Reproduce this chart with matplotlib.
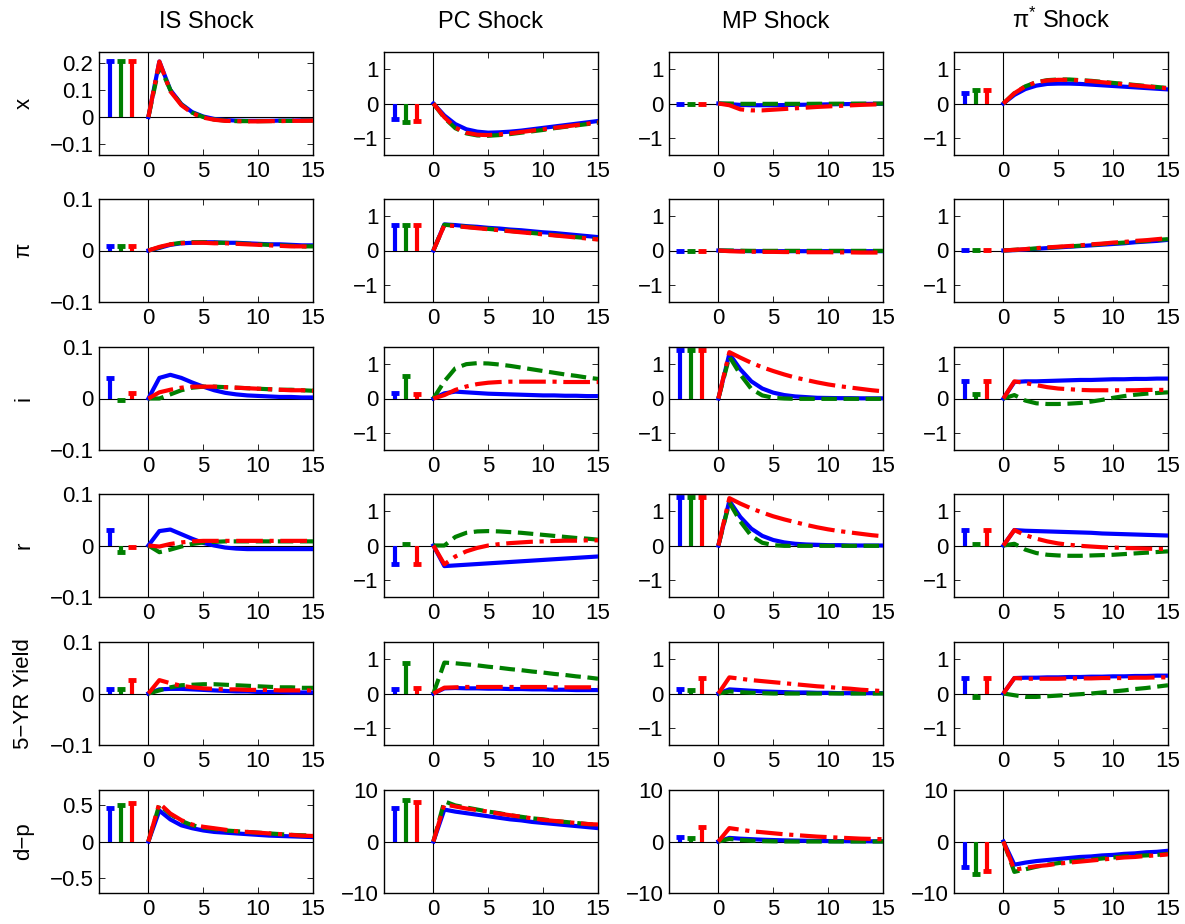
import numpy as np
import matplotlib
matplotlib.use("Agg")
import matplotlib.pyplot as plt

plt.rcParams['font.family'] = ['Liberation Sans', 'DejaVu Sans']
plt.rcParams['mathtext.fontset'] = 'custom'
plt.rcParams['mathtext.rm'] = 'Liberation Sans'
plt.rcParams['mathtext.it'] = 'Liberation Sans:italic'

# horizons 0..15, each panel: (blue, green, red)
horizon = np.arange(16)

shocks = ['IS Shock', 'PC Shock', 'MP Shock', 'π$^{*}$ Shock']
variables = ['x', 'π', 'i', 'r', '5−YR Yield', 'd−p']

# ---- x ----
x_IS = ([0, 0.205, 0.10, 0.048, 0.018, 0.002, -0.007, -0.011, -0.013, -0.014, -0.014, -0.014, -0.013, -0.013, -0.012, -0.012],
        [0, 0.19, 0.10, 0.046, 0.016, 0.000, -0.009, -0.013, -0.015, -0.015, -0.015, -0.015, -0.014, -0.014, -0.013, -0.013],
        [0, 0.205, 0.095, 0.044, 0.014, -0.002, -0.010, -0.014, -0.015, -0.016, -0.016, -0.015, -0.015, -0.014, -0.014, -0.013])
x_PC = ([0, -0.35, -0.6, -0.75, -0.82, -0.85, -0.84, -0.82, -0.79, -0.75, -0.71, -0.67, -0.63, -0.59, -0.55, -0.51],
        [0, -0.42, -0.72, -0.87, -0.93, -0.94, -0.92, -0.89, -0.85, -0.81, -0.77, -0.72, -0.68, -0.64, -0.60, -0.56],
        [0, -0.40, -0.70, -0.85, -0.91, -0.92, -0.90, -0.87, -0.83, -0.79, -0.75, -0.71, -0.67, -0.63, -0.59, -0.55])
x_MP = ([0, -0.02, -0.04, -0.05, -0.05, -0.05, -0.045, -0.04, -0.035, -0.03, -0.025, -0.02, -0.016, -0.013, -0.01, -0.008],
        [0, 0, -0.01, -0.01, -0.01, -0.01, -0.01, -0.01, -0.01, -0.008, -0.007, -0.006, -0.005, -0.004, -0.003, -0.002],
        [0, -0.05, -0.17, -0.2, -0.2, -0.18, -0.16, -0.14, -0.12, -0.1, -0.085, -0.07, -0.055, -0.04, -0.03, -0.02])
x_PIS = ([0, 0.25, 0.42, 0.52, 0.57, 0.58, 0.58, 0.57, 0.55, 0.53, 0.51, 0.49, 0.47, 0.45, 0.43, 0.41],
         [0, 0.3, 0.5, 0.62, 0.68, 0.70, 0.70, 0.68, 0.66, 0.63, 0.60, 0.57, 0.54, 0.51, 0.48, 0.45],
         [0, 0.3, 0.5, 0.62, 0.67, 0.69, 0.69, 0.67, 0.65, 0.62, 0.59, 0.56, 0.53, 0.50, 0.47, 0.44])

# ---- pi ----
pi_IS = ([0, 0.005, 0.011, 0.014, 0.015, 0.016, 0.016, 0.015, 0.015, 0.014, 0.013, 0.012, 0.012, 0.011, 0.010, 0.010],
         [0, 0.006, 0.012, 0.015, 0.016, 0.016, 0.015, 0.015, 0.014, 0.013, 0.012, 0.011, 0.010, 0.009, 0.008, 0.008],
         [0, 0.007, 0.012, 0.014, 0.015, 0.015, 0.014, 0.014, 0.013, 0.012, 0.011, 0.010, 0.009, 0.008, 0.008, 0.007])
pi_PC = ([0, 0.76, 0.74, 0.71, 0.69, 0.66, 0.64, 0.61, 0.59, 0.56, 0.53, 0.51, 0.48, 0.45, 0.42, 0.39],
         [0, 0.75, 0.72, 0.69, 0.66, 0.63, 0.60, 0.57, 0.54, 0.51, 0.48, 0.45, 0.42, 0.39, 0.36, 0.33],
         [0, 0.74, 0.71, 0.68, 0.65, 0.62, 0.59, 0.56, 0.53, 0.50, 0.47, 0.44, 0.41, 0.38, 0.35, 0.32])
pi_MP = ([0, -0.01, -0.015, -0.02, -0.02, -0.02, -0.02, -0.02, -0.02, -0.02, -0.02, -0.02, -0.02, -0.02, -0.02, -0.02],
         [0, 0, -0.005, -0.01, -0.01, -0.01, -0.01, -0.01, -0.01, -0.01, -0.01, -0.01, -0.01, -0.01, -0.01, -0.01],
         [0, -0.02, -0.03, -0.035, -0.04, -0.04, -0.045, -0.045, -0.05, -0.05, -0.05, -0.055, -0.055, -0.06, -0.06, -0.06])
pi_PIS = ([0, 0.01, 0.03, 0.05, 0.07, 0.09, 0.11, 0.13, 0.15, 0.17, 0.19, 0.21, 0.24, 0.26, 0.28, 0.31],
          [0, 0.02, 0.04, 0.06, 0.08, 0.10, 0.12, 0.14, 0.16, 0.19, 0.21, 0.23, 0.26, 0.28, 0.31, 0.33],
          [0, 0.02, 0.04, 0.07, 0.09, 0.11, 0.13, 0.15, 0.18, 0.20, 0.23, 0.25, 0.28, 0.30, 0.33, 0.36])

# ---- i ----
i_IS = ([0, 0.04, 0.046, 0.04, 0.031, 0.023, 0.016, 0.011, 0.008, 0.006, 0.005, 0.004, 0.003, 0.003, 0.002, 0.002],
        [0, 0.0, 0.008, 0.016, 0.021, 0.023, 0.023, 0.022, 0.021, 0.020, 0.019, 0.018, 0.017, 0.017, 0.016, 0.015],
        [0, 0.012, 0.017, 0.021, 0.023, 0.023, 0.023, 0.022, 0.021, 0.020, 0.019, 0.018, 0.017, 0.016, 0.016, 0.015])
i_PC = ([0, 0.15, 0.2, 0.18, 0.16, 0.14, 0.13, 0.12, 0.11, 0.1, 0.09, 0.09, 0.08, 0.08, 0.07, 0.07],
        [0, 0.5, 0.88, 1.0, 1.03, 1.02, 0.99, 0.95, 0.9, 0.85, 0.8, 0.75, 0.7, 0.66, 0.61, 0.57],
        [0, 0.1, 0.25, 0.35, 0.42, 0.46, 0.48, 0.49, 0.49, 0.49, 0.49, 0.49, 0.48, 0.48, 0.48, 0.48])
i_MP = ([0, 1.3, 0.85, 0.5, 0.29, 0.17, 0.1, 0.06, 0.04, 0.02, 0.015, 0.01, 0.01, 0.005, 0.005, 0.005],
        [0, 1.22, 0.7, 0.28, 0.09, 0.02, 0.0, -0.01, -0.01, -0.01, -0.01, -0.01, -0.01, -0.01, -0.01, -0.01],
        [0, 1.35, 1.19, 1.04, 0.91, 0.8, 0.7, 0.61, 0.54, 0.47, 0.41, 0.36, 0.32, 0.28, 0.24, 0.21])
i_PIS = ([0, 0.48, 0.5, 0.5, 0.51, 0.52, 0.53, 0.54, 0.54, 0.55, 0.56, 0.56, 0.57, 0.57, 0.58, 0.58],
         [0, 0.1, -0.06, -0.14, -0.16, -0.16, -0.15, -0.13, -0.09, -0.04, 0.02, 0.07, 0.11, 0.14, 0.16, 0.18],
         [0, 0.5, 0.45, 0.39, 0.33, 0.29, 0.27, 0.25, 0.24, 0.24, 0.24, 0.24, 0.24, 0.25, 0.25, 0.25])

# ---- r ----
r_IS = ([0, 0.028, 0.031, 0.022, 0.013, 0.005, 0.0, -0.004, -0.006, -0.007, -0.007, -0.007, -0.007, -0.007, -0.007, -0.007],
        [0, -0.013, -0.008, -0.002, 0.003, 0.006, 0.007, 0.008, 0.008, 0.008, 0.008, 0.008, 0.008, 0.008, 0.008, 0.008],
        [0, -0.002, 0.003, 0.006, 0.008, 0.009, 0.009, 0.009, 0.009, 0.009, 0.009, 0.009, 0.009, 0.009, 0.009, 0.009])
r_PC = ([0, -0.6, -0.58, -0.56, -0.54, -0.52, -0.5, -0.48, -0.46, -0.44, -0.42, -0.4, -0.38, -0.36, -0.34, -0.32],
        [0, 0.0, 0.25, 0.37, 0.41, 0.42, 0.41, 0.39, 0.37, 0.34, 0.31, 0.28, 0.25, 0.22, 0.2, 0.17],
        [0, -0.55, -0.32, -0.17, -0.07, 0.0, 0.04, 0.07, 0.09, 0.11, 0.12, 0.13, 0.14, 0.14, 0.15, 0.15])
r_MP = ([0, 1.3, 0.83, 0.49, 0.28, 0.16, 0.09, 0.05, 0.03, 0.02, 0.01, 0.01, 0.0, 0.0, 0.0, 0.0],
        [0, 1.25, 0.7, 0.28, 0.08, 0.01, -0.01, -0.01, -0.01, -0.01, -0.01, -0.01, -0.01, -0.01, -0.01, -0.01],
        [0, 1.38, 1.22, 1.08, 0.96, 0.85, 0.76, 0.68, 0.6, 0.53, 0.47, 0.42, 0.38, 0.34, 0.3, 0.27])
r_PIS = ([0, 0.45, 0.43, 0.42, 0.41, 0.4, 0.39, 0.38, 0.37, 0.35, 0.34, 0.33, 0.32, 0.31, 0.3, 0.29],
         [0, 0.05, -0.12, -0.22, -0.27, -0.29, -0.3, -0.3, -0.29, -0.28, -0.27, -0.25, -0.23, -0.21, -0.19, -0.17],
         [0, 0.45, 0.3, 0.2, 0.12, 0.06, 0.02, -0.01, -0.03, -0.05, -0.06, -0.07, -0.08, -0.09, -0.1, -0.1])

# ---- 5-YR yield ----
y5_IS = ([0, 0.008, 0.009, 0.009, 0.008, 0.007, 0.006, 0.005, 0.004, 0.004, 0.003, 0.003, 0.003, 0.002, 0.002, 0.002],
         [0, 0.006, 0.012, 0.016, 0.017, 0.018, 0.018, 0.017, 0.016, 0.015, 0.014, 0.013, 0.012, 0.012, 0.011, 0.011],
         [0, 0.026, 0.02, 0.015, 0.012, 0.01, 0.009, 0.008, 0.008, 0.007, 0.007, 0.007, 0.006, 0.006, 0.006, 0.006])
y5_PC = ([0, 0.15, 0.16, 0.15, 0.15, 0.14, 0.14, 0.13, 0.13, 0.12, 0.12, 0.11, 0.11, 0.1, 0.1, 0.1],
         [0, 0.9, 0.88, 0.85, 0.82, 0.78, 0.75, 0.71, 0.68, 0.64, 0.61, 0.57, 0.54, 0.5, 0.47, 0.43],
         [0, 0.17, 0.18, 0.19, 0.19, 0.19, 0.19, 0.19, 0.19, 0.19, 0.19, 0.18, 0.18, 0.18, 0.18, 0.18])
y5_MP = ([0, 0.12, 0.1, 0.08, 0.06, 0.05, 0.04, 0.03, 0.03, 0.02, 0.02, 0.01, 0.01, 0.01, 0.01, 0.01],
         [0, 0.06, 0.04, 0.02, 0.01, 0.0, 0.0, 0.0, 0.0, 0.0, 0.0, 0.0, 0.0, 0.0, 0.0, 0.0],
         [0, 0.47, 0.43, 0.39, 0.36, 0.33, 0.3, 0.27, 0.24, 0.21, 0.19, 0.16, 0.14, 0.11, 0.09, 0.07])
y5_PIS = ([0, 0.45, 0.46, 0.46, 0.47, 0.47, 0.48, 0.48, 0.49, 0.49, 0.5, 0.5, 0.51, 0.51, 0.52, 0.52],
          [0, -0.05, -0.1, -0.1, -0.08, -0.06, -0.04, -0.02, 0.0, 0.03, 0.06, 0.09, 0.13, 0.16, 0.2, 0.24],
          [0, 0.45, 0.43, 0.43, 0.43, 0.43, 0.44, 0.44, 0.44, 0.45, 0.45, 0.45, 0.46, 0.46, 0.47, 0.47])

# ---- d-p ----
dp_IS = ([0, 0.42, 0.3, 0.22, 0.18, 0.15, 0.13, 0.12, 0.11, 0.1, 0.09, 0.08, 0.075, 0.07, 0.065, 0.06],
         [0, 0.5, 0.37, 0.28, 0.22, 0.19, 0.17, 0.15, 0.14, 0.13, 0.12, 0.11, 0.1, 0.09, 0.085, 0.08],
         [0, 0.52, 0.38, 0.29, 0.23, 0.2, 0.18, 0.16, 0.14, 0.13, 0.12, 0.11, 0.1, 0.09, 0.08, 0.075])
dp_PC = ([0, 6.2, 5.8, 5.5, 5.2, 4.9, 4.6, 4.3, 4.1, 3.8, 3.6, 3.4, 3.2, 3.0, 2.8, 2.6],
         [0, 7.8, 7.0, 6.6, 6.2, 5.8, 5.5, 5.1, 4.8, 4.5, 4.3, 4.0, 3.8, 3.6, 3.4, 3.2],
         [0, 7.2, 6.8, 6.4, 6.1, 5.8, 5.4, 5.1, 4.8, 4.5, 4.2, 4.0, 3.8, 3.6, 3.4, 3.3])
dp_MP = ([0, 0.7, 0.55, 0.45, 0.35, 0.28, 0.22, 0.18, 0.14, 0.11, 0.09, 0.07, 0.06, 0.05, 0.04, 0.03],
         [0, 0.5, 0.3, 0.15, 0.07, 0.03, 0.01, 0, 0, 0, 0, 0, 0, 0, 0, 0],
         [0, 2.6, 2.3, 2.0, 1.8, 1.6, 1.4, 1.25, 1.1, 0.95, 0.85, 0.75, 0.65, 0.55, 0.5, 0.45])
dp_PIS = ([0, -4.5, -4.1, -3.8, -3.6, -3.4, -3.2, -3.0, -2.9, -2.7, -2.6, -2.4, -2.3, -2.1, -2.0, -1.8],
          [0, -5.9, -5.4, -4.9, -4.5, -4.2, -3.9, -3.7, -3.5, -3.3, -3.1, -2.9, -2.8, -2.7, -2.6, -2.4],
          [0, -5.5, -5.1, -4.8, -4.6, -4.3, -4.1, -3.9, -3.7, -3.5, -3.3, -3.1, -3.0, -2.8, -2.7, -2.5])

# impact bars (blue, green, red) per shock
bars_x = [[0.205, 0.205, 0.205], [-0.45, -0.55, -0.5], [-0.02, -0.02, -0.02], [0.32, 0.4, 0.38]]
bars_pi = [[0.008, 0.008, 0.008], [0.75, 0.75, 0.75], [-0.02, -0.02, -0.02], [0.02, 0.02, 0.02]]
bars_i = [[0.04, -0.003, 0.01], [0.15, 0.65, 0.12], [1.4, 1.4, 1.4], [0.52, 0.12, 0.52]]
bars_r = [[0.03, -0.013, -0.002], [-0.55, 0.05, -0.55], [1.4, 1.4, 1.4], [0.45, 0.05, 0.45]]
bars_y5 = [[0.009, 0.009, 0.027], [0.12, 0.9, 0.15], [0.12, 0.1, 0.45], [0.45, -0.1, 0.45]]
bars_dp = [[0.45, 0.5, 0.53], [6.5, 8.1, 7.7], [0.8, 0.6, 2.8], [-4.9, -6.3, -5.7]]

irfs = [[x_IS, x_PC, x_MP, x_PIS],
        [pi_IS, pi_PC, pi_MP, pi_PIS],
        [i_IS, i_PC, i_MP, i_PIS],
        [r_IS, r_PC, r_MP, r_PIS],
        [y5_IS, y5_PC, y5_MP, y5_PIS],
        [dp_IS, dp_PC, dp_MP, dp_PIS]]
bars = [bars_x, bars_pi, bars_i, bars_r, bars_y5, bars_dp]

xticks = [0, 5, 10, 15]
xticklabels = ['0', '5', '10', '15']
bar_pos = [-3.5, -2.5, -1.5]

# y axis setup: (ylim, ticks, labels)
small_axis = ((-0.1, 0.1), [-0.1, 0, 0.1], ['−0.1', '0', '0.1'])
unit_axis = ((-1.5, 1.5), [-1, 0, 1], ['−1', '0', '1'])
yaxes = [[((-0.14, 0.24), [-0.1, 0, 0.1, 0.2], ['−0.1', '0', '0.1', '0.2'])] + [unit_axis] * 3,
         [small_axis] + [unit_axis] * 3,
         [small_axis] + [unit_axis] * 3,
         [small_axis] + [unit_axis] * 3,
         [small_axis] + [unit_axis] * 3,
         [((-0.7, 0.7), [-0.5, 0, 0.5], ['−0.5', '0', '0.5'])]
         + [((-10, 10), [-10, 0, 10], ['−10', '0', '10'])] * 3]

colors = ['#0000ff', '#007f00', '#ff0000']
styles = ['-', '--', '-.']

W, H = 1185, 924
fig = plt.figure(figsize=(W / 100, H / 100), dpi=100)

col_left = [99, 384, 669, 954]
row_top = [52, 199, 347, 494, 642, 790]
aw, ah = 214, 103
fs = 16

for r in range(6):
    for c in range(4):
        ax = fig.add_axes([col_left[c] / W, 1 - (row_top[r] + ah) / H, aw / W, ah / H])
        ax.axhline(0, color='k', lw=0.8, zorder=1)
        ax.axvline(0, color='k', lw=0.8, zorder=1)
        for k in range(3):
            v = bars[r][c][k]
            ax.vlines(bar_pos[k], 0, v, color=colors[k], lw=3, zorder=2)
            ax.hlines(v, bar_pos[k] - 0.4, bar_pos[k] + 0.4, color=colors[k], lw=3.5, zorder=2)
        for k in range(3):
            ax.plot(horizon, irfs[r][c][k], color=colors[k], ls=styles[k], lw=3, zorder=3)
        ylim, yt, ytl = yaxes[r][c]
        ax.set_xlim(-4.5, 15)
        ax.set_ylim(*ylim)
        ax.set_xticks(xticks)
        ax.set_xticklabels(xticklabels)
        ax.set_yticks(yt)
        ax.set_yticklabels(ytl)
        ax.tick_params(direction='in', length=4, width=0.6, top=True, right=True,
                       labelsize=fs, pad=4)
        for s in ax.spines.values():
            s.set_linewidth(1.0)
        if r == 0:
            ax.set_title(shocks[c], fontsize=fs + 1, pad=17)
    fig.text(24 / W, 1 - (row_top[r] + ah / 2) / H, variables[r], rotation=90,
             ha='center', va='center', fontsize=fs)

fig.savefig('out.png', dpi=100)
